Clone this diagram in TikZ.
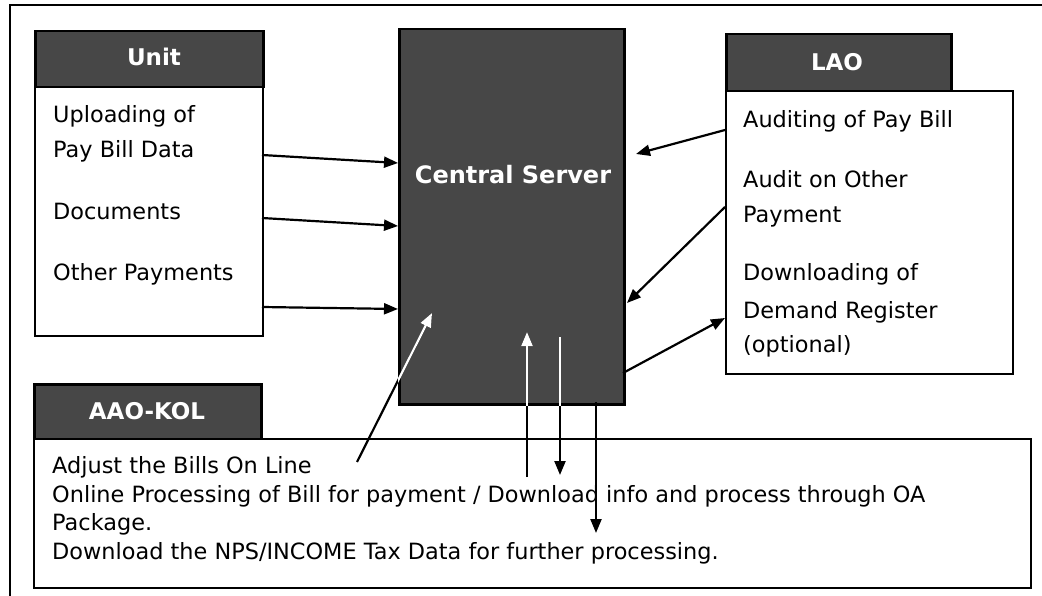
\documentclass[tikz,border=0pt]{standalone}
\usepackage{fontspec}
\setmainfont{DejaVu Sans}
\usetikzlibrary{arrows.meta}
\begin{document}
\begin{tikzpicture}[x=1pt,y=-1pt,
  darkbox/.style={draw=black,line width=2.5pt,fill=black!72,inner sep=0pt,anchor=north west},
  whitebox/.style={draw=black,line width=2.2pt,fill=white,inner sep=0pt,anchor=north west},
  headtext/.style={text=white,font=\bfseries\fontsize{23}{28}\selectfont},
  bodytext/.style={inner sep=0pt,anchor=base west,font=\fontsize{22.4}{28}\selectfont},
  flow/.style={line width=2.2pt,-{Triangle[length=14pt,width=11pt]}},
  inflow/.style={draw=white,line width=2.2pt,-{Triangle[length=14pt,width=11pt]}},
  plainline/.style={line width=2.2pt}]
\useasboundingbox (0,0) rectangle (1042,596);
\fill[white] (0,0) rectangle (1042,596);
% outer frame, running past the page edge on the right and at the bottom
\draw[line width=2.4pt] (10,620) -- (10,5) -- (1060,5);

% ---- Unit ----
\node[darkbox,minimum width=228,minimum height=56] (unithead) at (34,30) {};
\node[headtext] (unitlabel) at (154,57) {Unit};
\node[whitebox,minimum width=228,minimum height=249] (unit) at (34,86) {};
\node[bodytext] (u1) at (53,123) {Uploading of};
\node[bodytext] (u2) at (53,158) {Pay Bill Data};
\node[bodytext] (u3) at (53,220) {Documents};
\node[bodytext] (u4) at (53,280) {Other Payments};

% ---- Central Server ----
\node[darkbox,minimum width=225,minimum height=375] (server) at (398,28) {};
\node[headtext,font=\bfseries\fontsize{24}{28}\selectfont] (serverlabel) at (513,175) {Central Server};

% ---- LAO ----
\node[darkbox,minimum width=225,minimum height=57] (laohead) at (725,33) {};
\node[headtext] (laolabel) at (837,62) {LAO};
\node[whitebox,minimum width=287,minimum height=283] (lao) at (725,90) {};
\node[bodytext] (l1) at (743,128) {Auditing of Pay Bill};
\node[bodytext] (l2) at (743,188) {Audit on Other};
\node[bodytext] (l3) at (743,223) {Payment};
\node[bodytext] (l4) at (743,280) {Downloading of};
\node[bodytext] (l5) at (743,318) {Demand Register};
\node[bodytext] (l6) at (743,352) {(optional)};

% ---- AAO-KOL ----
\node[darkbox,minimum width=227,minimum height=55] (aaohead) at (33,383) {};
\node[headtext] (aaolabel) at (147,411) {AAO-KOL};
\node[whitebox,minimum width=997,minimum height=149] (aao) at (33,438) {};
\node[bodytext] (a1) at (52,473) {Adjust the Bills On Line};
\node[bodytext] (a2) at (52,502) {Online Processing of Bill for payment / Download info and process through OA};
\node[bodytext] (a3) at (52,530) {Package.};
\node[bodytext] (a4) at (52,559) {Download the NPS/INCOME Tax Data for further processing.};

% ---- connector end points ----
\coordinate (uo1) at (262,155);  \coordinate (si1) at (398,163);
\coordinate (uo2) at (262,218);  \coordinate (si2) at (398,226);
\coordinate (uo3) at (262,307);  \coordinate (si3) at (398,309);
\coordinate (lo1) at (725,130);  \coordinate (se1) at (636,154);
\coordinate (lo2) at (725,207);  \coordinate (se2) at (627,303);
\coordinate (se3) at (623,373);  \coordinate (li3) at (725,318);
\coordinate (ao1) at (357,462);  \coordinate (sa1) at (432,313);
\coordinate (ao2) at (527,477);  \coordinate (sa2) at (527,332);
\coordinate (sb3) at (560,337);  \coordinate (ai3) at (560,475);
\coordinate (sb4) at (596,402);  \coordinate (ai4) at (596,533);

% Unit to server
\draw[flow] (uo1) -- (si1);
\draw[flow] (uo2) -- (si2);
\draw[flow] (uo3) -- (si3);
% LAO and server
\draw[flow] (lo1) -- (se1);
\draw[flow] (lo2) -- (se2);
\draw[flow] (se3) -- (li3);
% AAO-KOL and server
\draw[flow] (ao1) -- (sa1);
\draw[flow] (ao2) -- (sa2);
\draw[flow] (sb3) -- (ai3);
\draw[flow] (sb4) -- (ai4);

% parts of the connectors that lie over the dark server box show white
\begin{scope}
  \clip (server.north west) rectangle (server.south east);
  \draw[inflow] (ao1) -- (sa1);
  \draw[inflow] (ao2) -- (sa2);
  \draw[draw=white,plainline] (sb3) -- (ai3);
\end{scope}
\end{tikzpicture}
\end{document}
